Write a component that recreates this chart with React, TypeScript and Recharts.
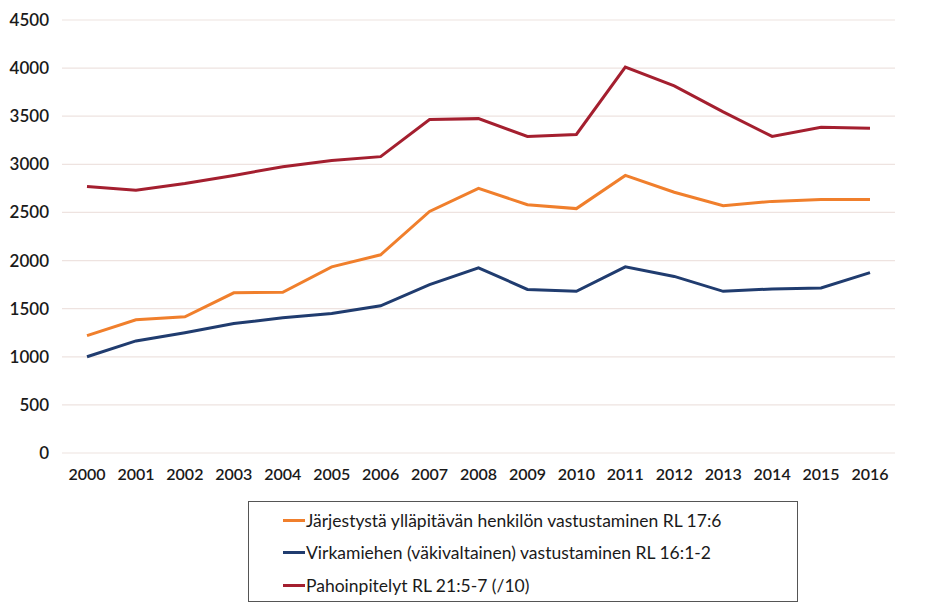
import { LineChart, Line, XAxis, YAxis, CartesianGrid, Legend } from "recharts";

const years = [
  "2000", "2001", "2002", "2003", "2004", "2005", "2006", "2007", "2008",
  "2009", "2010", "2011", "2012", "2013", "2014", "2015", "2016",
];

const jarjestys = [
  1220, 1385, 1415, 1665, 1670, 1935, 2060, 2510, 2750, 2580, 2540, 2885,
  2710, 2570, 2615, 2635, 2635,
];

const virkamies = [
  1000, 1165, 1250, 1345, 1405, 1450, 1530, 1750, 1925, 1700, 1680, 1935,
  1835, 1680, 1705, 1715, 1875,
];

const pahoinpitelyt = [
  2770, 2730, 2800, 2885, 2975, 3040, 3080, 3465, 3475, 3290, 3310, 4010,
  3815, 3545, 3290, 3385, 3375,
];

const yTicks = [0, 500, 1000, 1500, 2000, 2500, 3000, 3500, 4000, 4500];

const SERIES = [
  { key: "jarjestys", name: "Järjestystä ylläpitävän henkilön vastustaminen RL 17:6", color: "#f07f2c" },
  { key: "virkamies", name: "Virkamiehen (väkivaltainen) vastustaminen RL 16:1-2", color: "#203c6f" },
  { key: "pahoinpitelyt", name: "Pahoinpitelyt RL 21:5-7 (/10)", color: "#a41f2f" },
];

const data = years.map((year, i) => ({
  year,
  jarjestys: jarjestys[i],
  virkamies: virkamies[i],
  pahoinpitelyt: pahoinpitelyt[i],
}));

const FONT = "Lato, 'Open Sans', sans-serif";

function LegendBox() {
  return (
    <div
      style={{
        width: 550,
        height: 101,
        border: "1px solid #555",
        boxSizing: "border-box",
        padding: "2px 0 0 34px",
        fontFamily: FONT,
        fontSize: 17.5,
        color: "#1a1a1a",
        background: "#fff",
      }}
    >
      {SERIES.map((s) => (
        <div
          key={s.key}
          style={{ display: "flex", alignItems: "center", height: 32.5 }}
        >
          <span
            style={{
              display: "inline-block",
              width: 22,
              height: 3,
              background: s.color,
              marginRight: 1,
            }}
          />
          <span>{s.name}</span>
        </div>
      ))}
    </div>
  );
}

export default function App() {
  return (
    <div style={{ position: "absolute", left: 0, top: 0, background: "#fff" }}>
      <LineChart
        width={936}
        height={607}
        data={data}
        margin={{ top: 20, right: 41, bottom: 23, left: 0 }}
      >
        <CartesianGrid vertical={false} stroke="#eee3e0" strokeWidth={1.2} />
        <XAxis
          dataKey="year"
          padding={{ left: 25, right: 25 }}
          axisLine={false}
          tickLine={false}
          tickMargin={10}
          tick={{ fill: "#1a1a1a", fontSize: 16, fontFamily: FONT, fontWeight: 600 }}
          interval={0}
        />
        <YAxis
          width={62}
          domain={[0, 4500]}
          ticks={yTicks}
          axisLine={false}
          tickLine={false}
          tickMargin={7}
          tick={{ fill: "#1a1a1a", fontSize: 17, fontFamily: FONT, fontWeight: 600 }}
        />
        {SERIES.map((s) => (
          <Line
            key={s.key}
            type="linear"
            dataKey={s.key}
            name={s.name}
            stroke={s.color}
            strokeWidth={3}
            dot={false}
            isAnimationActive={false}
          />
        ))}
        <Legend
          content={() => <LegendBox />}
          wrapperStyle={{ position: "absolute", left: 248, top: 501, width: 550, bottom: "auto" }}
        />
      </LineChart>
    </div>
  );
}
